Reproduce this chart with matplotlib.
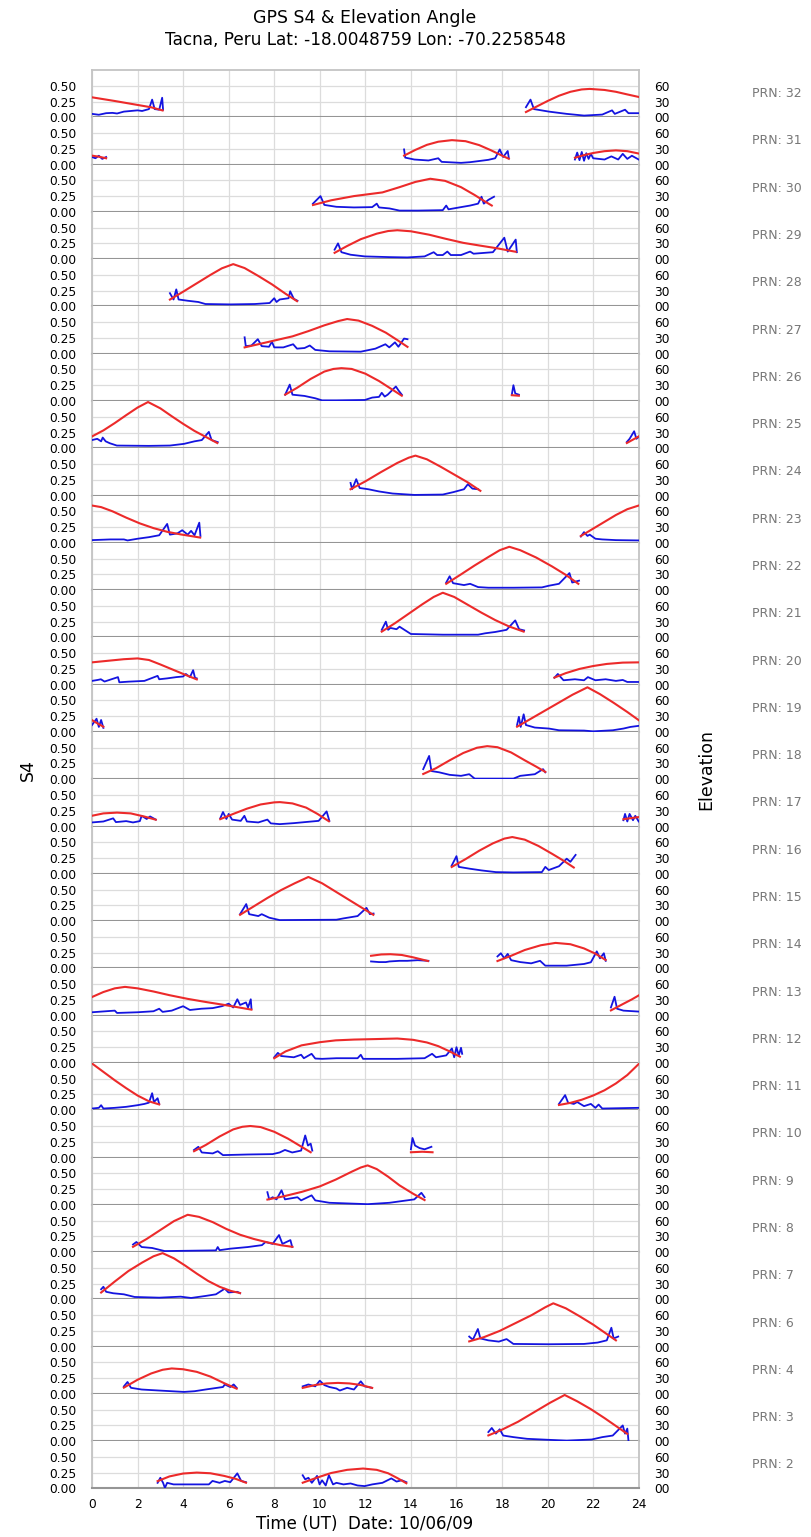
import matplotlib
matplotlib.use("Agg")
import matplotlib.pyplot as plt

# ---------------- data (hours UT, elevation deg / S4) ----------------
PRNS = [32, 31, 30, 29, 28, 27, 26, 25, 24, 23, 22, 21, 20, 19, 18, 17, 16,
        15, 14, 13, 12, 11, 10, 9, 8, 7, 6, 4, 3, 2]

X_TICKS = list(range(0, 25, 2))
S4_TICKS = [0.0, 0.25, 0.5]
S4_LABELS = ["0.00", "0.25", "0.50"]
EL_TICKS = [0, 30, 60]
EL_LABELS = ["00", "30", "60"]

ELEV_32 = [[(0, 38), (1, 31), (2, 23.5), (2.6, 19), (3.1, 13)],
           [(19.05, 10), (19.5, 20), (20.0, 31), (20.5, 41), (21.0, 48.5), (21.5, 53), (21.85, 54),
            (22.5, 52), (23.0, 48.5), (23.5, 43.5), (24, 38.7)]]
S4_32 = [[(0, 0.054), (0.3, 0.04), (0.62, 0.065), (0.9, 0.07), (1.1, 0.06), (1.4, 0.09), (1.7, 0.1),
          (2.0, 0.11), (2.2, 0.1), (2.5, 0.13), (2.64, 0.28), (2.75, 0.13), (2.95, 0.12), (3.08, 0.31), (3.12, 0.12)],
         [(19.05, 0.16), (19.25, 0.28), (19.4, 0.13), (20.06, 0.09), (20.84, 0.054), (21.6, 0.027),
          (22.4, 0.043), (22.83, 0.11), (22.95, 0.054), (23.4, 0.12), (23.55, 0.065), (24, 0.065)]]

ELEV_31 = [[(0, 17), (0.3, 15), (0.62, 12)],
           [(13.7, 17), (14.2, 28), (14.7, 37.5), (15.2, 43.5), (15.8, 46.5), (16.4, 44.5), (17.0, 37),
            (17.5, 27.5), (18.0, 17), (18.3, 11)],
           [(21.2, 13), (21.6, 18), (22.0, 22), (22.5, 25.5), (23.0, 27), (23.5, 25.5), (24, 21)]]
S4_31 = [[(0, 0.12), (0.15, 0.1), (0.3, 0.14), (0.45, 0.09), (0.62, 0.12)],
         [(13.7, 0.24), (13.75, 0.11), (14.15, 0.08), (14.77, 0.065), (15.2, 0.1), (15.35, 0.043),
          (16.2, 0.027), (16.6, 0.038), (16.95, 0.054), (17.4, 0.075), (17.7, 0.1), (17.9, 0.24),
          (18.05, 0.12), (18.25, 0.215), (18.3, 0.1)],
         [(21.2, 0.08), (21.3, 0.19), (21.4, 0.07), (21.5, 0.2), (21.6, 0.06), (21.7, 0.18), (21.8, 0.09),
          (21.9, 0.17), (22.0, 0.1), (22.5, 0.08), (22.8, 0.13), (23.1, 0.08), (23.3, 0.17), (23.5, 0.09),
          (23.7, 0.14), (24, 0.08)]]

ELEV_30 = [[(9.7, 13), (10.5, 22), (11.5, 30), (12.75, 37), (13.5, 47), (14.2, 57), (14.85, 63),
            (15.5, 59), (16.2, 47), (16.8, 32), (17.2, 21), (17.55, 12)]]
S4_30 = [[(9.7, 0.13), (10.03, 0.25), (10.2, 0.11), (10.73, 0.08), (11.5, 0.07), (12.3, 0.075),
          (12.5, 0.13), (12.6, 0.07), (13.06, 0.054), (13.5, 0.02), (14.3, 0.02), (15.4, 0.027),
          (15.55, 0.1), (15.65, 0.04), (16.2, 0.075), (16.6, 0.1), (16.95, 0.13), (17.1, 0.24),
          (17.2, 0.13), (17.4, 0.19), (17.65, 0.24)]]

ELEV_29 = [[(10.65, 12), (11.2, 25), (11.8, 38), (12.5, 48.5), (13.0, 53.5), (13.4, 55), (14.0, 53),
            (14.8, 46.5), (15.5, 39), (16.3, 31), (17.0, 26), (17.8, 20.5), (18.6, 14)]]
S4_29 = [[(10.65, 0.15), (10.8, 0.25), (10.95, 0.11), (11.35, 0.07), (11.98, 0.043), (13.06, 0.032),
          (13.84, 0.027), (14.6, 0.043), (15.0, 0.11), (15.15, 0.065), (15.4, 0.065), (15.6, 0.12),
          (15.75, 0.065), (16.2, 0.065), (16.6, 0.12), (16.75, 0.086), (17.6, 0.11), (18.1, 0.34),
          (18.25, 0.12), (18.6, 0.31), (18.65, 0.11)]]

ELEV_28 = [[(3.42, 13), (4.0, 28), (4.6, 44), (5.2, 60), (5.7, 72.5), (6.2, 80.5), (6.7, 73),
            (7.3, 58), (7.9, 42), (8.5, 24), (9.0, 10)]]
S4_28 = [[(3.42, 0.21), (3.58, 0.11), (3.7, 0.27), (3.8, 0.11), (4.2, 0.09), (4.67, 0.07), (4.98, 0.038),
          (6.07, 0.032), (7.15, 0.038), (7.8, 0.054), (8.0, 0.13), (8.1, 0.07), (8.24, 0.11),
          (8.63, 0.13), (8.7, 0.24), (8.86, 0.12), (9.02, 0.09)]]

ELEV_27 = [[(6.7, 12), (7.3, 18), (8.0, 25), (8.8, 33), (9.5, 43), (10.2, 54), (10.8, 62), (11.2, 66),
            (11.7, 63), (12.3, 53), (12.9, 40), (13.4, 26), (13.85, 13)]]
S4_27 = [[(6.7, 0.26), (6.75, 0.12), (7.0, 0.13), (7.28, 0.23), (7.45, 0.12), (7.77, 0.11), (7.9, 0.19),
          (8.0, 0.1), (8.4, 0.1), (8.83, 0.15), (9.0, 0.08), (9.33, 0.09), (9.56, 0.13), (9.8, 0.06),
          (10.42, 0.038), (11.8, 0.032), (12.44, 0.08), (12.88, 0.15), (13.05, 0.1), (13.3, 0.18),
          (13.45, 0.11), (13.7, 0.24), (13.85, 0.23)]]

ELEV_26 = [[(8.48, 12), (9.0, 25), (9.6, 42), (10.2, 56), (10.6, 61), (10.95, 62.5), (11.4, 61),
            (12.0, 52), (12.6, 38), (13.1, 24), (13.6, 10)],
           [(18.43, 11), (18.74, 10)]]
S4_26 = [[(8.48, 0.1), (8.68, 0.26), (8.8, 0.1), (9.33, 0.08), (9.8, 0.043), (10.1, 0.01), (10.73, 0.01),
          (11.98, 0.016), (12.3, 0.054), (12.6, 0.065), (12.72, 0.13), (12.85, 0.07), (12.98, 0.1),
          (13.34, 0.23), (13.45, 0.17), (13.6, 0.1)],
         [(18.43, 0.1), (18.5, 0.25), (18.58, 0.12), (18.74, 0.1)]]

ELEV_25 = [[(0, 22.5), (0.5, 34), (1.0, 48), (1.5, 63), (2.0, 77.5), (2.46, 88), (3.0, 76), (3.5, 61),
            (4.0, 46.5), (4.5, 33), (5.0, 21.5), (5.5, 10)],
           [(23.48, 10), (24, 22.5)]]
S4_25 = [[(0, 0.13), (0.23, 0.15), (0.4, 0.11), (0.47, 0.17), (0.6, 0.11), (0.78, 0.08), (1.09, 0.043),
          (2.49, 0.038), (3.42, 0.043), (4.04, 0.07), (4.5, 0.11), (4.82, 0.13), (5.13, 0.26),
          (5.25, 0.13), (5.52, 0.097)],
         [(23.48, 0.1), (23.6, 0.15), (23.8, 0.27), (23.9, 0.15), (24, 0.18)]]

ELEV_24 = [[(11.35, 12), (12.0, 27), (12.7, 45), (13.4, 62), (13.9, 72), (14.2, 76), (14.7, 69),
            (15.3, 55), (15.9, 40), (16.5, 25), (17.05, 9)]]
S4_24 = [[(11.35, 0.2), (11.42, 0.1), (11.6, 0.26), (11.75, 0.12), (12.13, 0.1), (12.6, 0.065),
          (13.2, 0.032), (14.15, 0.01), (15.4, 0.016), (15.86, 0.054), (16.33, 0.1), (16.5, 0.18),
          (16.7, 0.11), (16.95, 0.1)]]

ELEV_23 = [[(0, 71), (0.4, 68), (0.9, 60), (1.5, 48), (2.1, 37), (2.7, 28), (3.3, 21), (3.9, 16),
            (4.4, 12.5), (4.75, 10)],
           [(21.46, 13), (22.0, 27), (22.5, 40), (23.0, 53), (23.5, 64), (24, 71)]]
S4_23 = [[(0, 0.043), (0.8, 0.054), (1.4, 0.054), (1.56, 0.038), (2.0, 0.065), (2.5, 0.09), (2.95, 0.12),
          (3.3, 0.3), (3.42, 0.13), (3.75, 0.15), (3.96, 0.2), (4.2, 0.13), (4.35, 0.19), (4.5, 0.12),
          (4.71, 0.32), (4.76, 0.11)],
         [(21.46, 0.1), (21.6, 0.17), (21.75, 0.11), (21.85, 0.13), (22.1, 0.065), (22.4, 0.054),
          (23.0, 0.043), (24, 0.038)]]

ELEV_22 = [[(15.55, 12), (16.2, 30), (16.8, 47), (17.4, 63), (17.9, 76), (18.32, 82.5), (18.8, 76),
            (19.5, 62), (20.2, 45), (20.8, 29), (21.35, 12)]]
S4_22 = [[(15.55, 0.12), (15.7, 0.22), (15.85, 0.11), (16.33, 0.08), (16.6, 0.1), (16.95, 0.048),
          (17.4, 0.038), (18.5, 0.038), (19.75, 0.043), (20.06, 0.07), (20.5, 0.1), (20.96, 0.27),
          (21.08, 0.12), (21.38, 0.15)]]

ELEV_21 = [[(12.72, 11), (13.3, 27), (13.9, 45), (14.5, 63), (15.0, 77), (15.4, 85), (15.9, 77),
            (16.5, 62), (17.1, 47), (17.7, 33), (18.3, 21), (18.95, 11)]]
S4_21 = [[(12.72, 0.12), (12.9, 0.25), (13.0, 0.12), (13.1, 0.15), (13.37, 0.13), (13.5, 0.17),
          (14.0, 0.054), (15.4, 0.043), (16.95, 0.043), (17.26, 0.065), (17.7, 0.086), (18.2, 0.12),
          (18.58, 0.27), (18.75, 0.13), (18.97, 0.11)]]

ELEV_20 = [[(0, 42.5), (0.7, 45.5), (1.4, 48.5), (2.0, 50), (2.5, 47), (3.0, 38.5), (3.5, 29.5),
            (4.0, 20.5), (4.6, 10)],
           [(20.3, 13.5), (20.8, 22), (21.4, 30), (22.0, 35.5), (22.6, 39.5), (23.3, 42), (24, 42.5)]]
S4_20 = [[(0, 0.06), (0.25, 0.075), (0.39, 0.086), (0.55, 0.05), (1.14, 0.12), (1.2, 0.038), (1.6, 0.048),
          (2.3, 0.06), (2.88, 0.14), (2.95, 0.086), (3.3, 0.1), (3.7, 0.12), (4.0, 0.13), (4.12, 0.17),
          (4.3, 0.12), (4.44, 0.23), (4.52, 0.11), (4.6, 0.1)],
         [(20.3, 0.11), (20.45, 0.17), (20.7, 0.07), (21.2, 0.086), (21.6, 0.07), (21.77, 0.12),
          (22.1, 0.07), (22.55, 0.086), (23.0, 0.06), (23.3, 0.075), (23.5, 0.043), (24, 0.043)]]

ELEV_19 = [[(0, 22.5), (0.25, 16), (0.5, 10)],
           [(18.66, 10), (19.3, 26), (19.9, 41), (20.5, 56), (21.1, 71), (21.75, 85), (22.3, 72),
            (22.9, 55.5), (23.5, 38), (24, 22.5)]]
S4_19 = [[(0, 0.11), (0.2, 0.21), (0.3, 0.08), (0.4, 0.19), (0.5, 0.065)],
         [(18.66, 0.11), (18.74, 0.24), (18.82, 0.08), (18.95, 0.28), (19.05, 0.11), (19.44, 0.07),
          (20.06, 0.054), (20.5, 0.027), (21.6, 0.022), (22.0, 0.01), (22.86, 0.027), (23.33, 0.054),
          (23.64, 0.08), (24, 0.097)]]

ELEV_18 = [[(14.54, 10), (15.1, 21), (15.7, 36), (16.3, 50), (16.9, 60), (17.35, 63), (17.8, 61),
            (18.4, 51), (19.0, 36), (19.5, 24), (19.9, 14)]]
S4_18 = [[(14.54, 0.16), (14.8, 0.37), (14.9, 0.13), (15.24, 0.11), (15.7, 0.07), (16.2, 0.054),
          (16.56, 0.08), (16.8, 0.01), (18.5, 0.01), (18.8, 0.054), (19.44, 0.08), (19.8, 0.16),
          (19.9, 0.11)]]

ELEV_17 = [[(0, 20.5), (0.5, 25), (1.1, 26.5), (1.7, 25), (2.3, 19), (2.8, 13)],
           [(5.63, 14), (6.2, 24), (6.8, 34), (7.4, 42), (8.0, 46), (8.25, 46.5), (8.8, 44), (9.4, 36),
            (9.9, 24), (10.4, 10)],
           [(23.33, 14), (24, 18)]]
S4_17 = [[(0, 0.065), (0.5, 0.08), (0.93, 0.13), (1.05, 0.07), (1.5, 0.086), (1.8, 0.065), (2.1, 0.086),
          (2.18, 0.17), (2.4, 0.12), (2.55, 0.16), (2.8, 0.11)],
         [(5.63, 0.13), (5.75, 0.23), (5.9, 0.12), (6.0, 0.2), (6.15, 0.11), (6.53, 0.09), (6.69, 0.17),
          (6.8, 0.08), (7.3, 0.065), (7.7, 0.11), (7.85, 0.05), (8.24, 0.038), (8.86, 0.054),
          (9.49, 0.075), (9.95, 0.09), (10.3, 0.24), (10.42, 0.09)],
         [(23.33, 0.1), (23.4, 0.2), (23.5, 0.08), (23.6, 0.2), (23.75, 0.1), (23.85, 0.17), (24, 0.08)]]

ELEV_16 = [[(15.79, 13), (16.4, 28), (17.0, 44), (17.6, 58), (18.1, 67), (18.45, 70), (19.0, 65),
            (19.6, 53), (20.2, 38), (20.7, 25), (21.15, 12)]]
S4_16 = [[(15.79, 0.13), (16.0, 0.28), (16.1, 0.11), (16.6, 0.08), (17.1, 0.054), (17.73, 0.027),
          (18.5, 0.022), (19.75, 0.027), (19.9, 0.11), (20.05, 0.06), (20.2, 0.08), (20.5, 0.12),
          (20.84, 0.24), (21.0, 0.19), (21.23, 0.3)]]

ELEV_15 = [[(6.5, 12), (7.1, 28), (7.7, 44), (8.3, 59), (8.9, 72), (9.5, 84), (10.1, 72), (10.7, 56),
            (11.3, 40), (11.9, 24), (12.35, 12)]]
S4_15 = [[(6.5, 0.11), (6.77, 0.27), (6.9, 0.11), (7.3, 0.08), (7.45, 0.11), (7.78, 0.054), (8.24, 0.016),
          (10.73, 0.022), (11.04, 0.043), (11.66, 0.08), (12.05, 0.21), (12.2, 0.11), (12.36, 0.12)]]

ELEV_14 = [[(12.25, 24), (12.7, 26.5), (13.1, 27), (13.6, 25.5), (14.1, 21), (14.75, 14)],
           [(17.8, 14), (18.4, 24), (19.0, 35), (19.7, 44), (20.35, 48.5), (21.0, 46), (21.6, 38),
            (22.1, 28), (22.55, 16)]]
S4_14 = [[(12.25, 0.11), (12.6, 0.1), (12.9, 0.1), (13.06, 0.11), (13.5, 0.12), (13.84, 0.12),
          (14.3, 0.13), (14.77, 0.12)],
         [(17.8, 0.19), (17.95, 0.24), (18.1, 0.16), (18.25, 0.23), (18.4, 0.13), (18.8, 0.1), (19.28, 0.08),
          (19.67, 0.12), (19.9, 0.043), (20.84, 0.043), (21.6, 0.07), (21.9, 0.097), (22.16, 0.27),
          (22.3, 0.16), (22.47, 0.24), (22.55, 0.12)]]

ELEV_13 = [[(0, 35.5), (0.5, 45), (1.0, 52), (1.45, 54.8), (2.0, 52), (2.7, 46), (3.4, 39), (4.2, 32),
            (5.0, 26), (5.8, 20.5), (6.4, 16), (7.0, 11.5)],
           [(22.78, 10), (23.3, 22), (23.7, 31), (24, 38.5)]]
S4_13 = [[(0, 0.054), (1.0, 0.08), (1.1, 0.043), (2.0, 0.054), (2.7, 0.07), (2.95, 0.11), (3.1, 0.06),
          (3.5, 0.08), (4.0, 0.15), (4.3, 0.09), (4.8, 0.11), (5.3, 0.12), (5.7, 0.15), (6.0, 0.19),
          (6.2, 0.13), (6.38, 0.26), (6.5, 0.17), (6.76, 0.21), (6.85, 0.13), (6.97, 0.26), (7.0, 0.11)],
         [(22.78, 0.13), (22.94, 0.3), (23.05, 0.11), (23.33, 0.08), (24, 0.065)]]

ELEV_12 = [[(8.0, 9), (8.5, 22), (9.2, 33.5), (10.0, 39.5), (10.7, 43), (11.5, 44.5), (12.5, 45.5),
            (13.4, 46.5), (14.1, 44), (14.7, 39), (15.2, 32), (15.7, 22), (16.15, 12)]]
S4_12 = [[(8.0, 0.09), (8.16, 0.16), (8.3, 0.11), (8.86, 0.09), (9.18, 0.13), (9.3, 0.075), (9.64, 0.145),
          (9.8, 0.07), (10.1, 0.065), (10.73, 0.075), (11.66, 0.075), (11.8, 0.13), (11.9, 0.065),
          (12.3, 0.065), (13.4, 0.065), (14.6, 0.075), (14.93, 0.145), (15.1, 0.09), (15.55, 0.12),
          (15.8, 0.23), (15.9, 0.09), (16.0, 0.25), (16.1, 0.12), (16.2, 0.24), (16.25, 0.145)]]

ELEV_11 = [[(0, 89), (0.5, 73), (1.0, 57), (1.5, 42), (2.0, 28), (2.5, 17), (2.95, 11)],
           [(20.5, 10), (21.0, 14), (21.5, 20), (22.0, 28), (22.5, 38), (23.0, 51), (23.5, 67), (24, 88)]]
S4_11 = [[(0, 0.027), (0.3, 0.038), (0.4, 0.08), (0.5, 0.027), (1.0, 0.038), (1.5, 0.054), (2.0, 0.08),
          (2.3, 0.1), (2.5, 0.12), (2.64, 0.27), (2.72, 0.13), (2.88, 0.19), (2.95, 0.1)],
         [(20.5, 0.1), (20.77, 0.24), (20.9, 0.12), (21.15, 0.1), (21.3, 0.13), (21.6, 0.065), (21.9, 0.1),
          (22.1, 0.038), (22.24, 0.09), (22.4, 0.027), (24, 0.038)]]

ELEV_10 = [[(4.48, 12), (5.0, 24), (5.6, 40), (6.2, 53.5), (6.6, 58.5), (6.95, 60), (7.4, 58), (8.0, 49),
            (8.6, 36), (9.1, 23), (9.6, 10)],
           [(14.0, 10), (14.5, 11), (14.95, 10)]]
S4_10 = [[(4.48, 0.12), (4.67, 0.17), (4.82, 0.08), (5.3, 0.065), (5.52, 0.1), (5.75, 0.038), (6.84, 0.048),
          (7.93, 0.054), (8.24, 0.08), (8.47, 0.12), (8.79, 0.08), (9.18, 0.11), (9.36, 0.35), (9.48, 0.19),
          (9.6, 0.22), (9.67, 0.11)],
         [(14.0, 0.13), (14.07, 0.31), (14.18, 0.19), (14.38, 0.15), (14.6, 0.13), (14.9, 0.17)]]

ELEV_9 = [[(7.7, 10), (8.4, 16), (9.2, 24.5), (10.0, 35), (10.7, 48), (11.4, 63), (11.8, 71), (12.1, 75),
           (12.5, 68), (13.0, 53.5), (13.5, 37), (14.1, 21), (14.6, 9)]]
S4_9 = [[(7.7, 0.2), (7.78, 0.086), (7.93, 0.12), (8.1, 0.086), (8.32, 0.23), (8.47, 0.086), (9.02, 0.12),
         (9.18, 0.07), (9.64, 0.15), (9.8, 0.07), (10.42, 0.032), (12.1, 0.01), (13.06, 0.032),
         (13.5, 0.054), (14.15, 0.086), (14.46, 0.19), (14.6, 0.12)]]

ELEV_8 = [[(1.8, 10), (2.4, 25), (3.0, 42), (3.6, 59), (4.2, 71), (4.7, 67), (5.3, 57), (5.9, 44),
           (6.5, 33), (7.1, 25), (7.7, 18.5), (8.3, 13), (8.8, 10)]]
S4_8 = [[(1.8, 0.12), (1.95, 0.16), (2.18, 0.08), (2.64, 0.065), (3.19, 0.016), (5.44, 0.027), (5.52, 0.08),
         (5.6, 0.03), (6.07, 0.054), (6.84, 0.08), (7.46, 0.11), (7.62, 0.16), (7.93, 0.13), (8.21, 0.27),
         (8.36, 0.13), (8.71, 0.19), (8.79, 0.08)]]

ELEV_7 = [[(0.4, 13), (1.0, 34), (1.6, 54), (2.2, 70), (2.7, 82), (3.1, 88), (3.6, 78), (4.1, 64),
           (4.6, 49), (5.1, 35), (5.6, 24), (6.1, 16), (6.5, 12)]]
S4_7 = [[(0.4, 0.16), (0.5, 0.2), (0.62, 0.12), (0.93, 0.097), (1.4, 0.08), (1.87, 0.038), (2.95, 0.027),
         (3.89, 0.043), (4.35, 0.022), (4.98, 0.054), (5.44, 0.08), (5.83, 0.17), (5.99, 0.11),
         (6.38, 0.12), (6.5, 0.097)]]

ELEV_6 = [[(16.56, 10), (17.2, 18), (17.9, 30), (18.6, 45), (19.3, 60), (19.9, 75), (20.25, 82.5),
           (20.8, 73), (21.4, 58), (22.0, 42), (22.5, 27), (23.0, 12)]]
S4_6 = [[(16.56, 0.16), (16.72, 0.11), (16.94, 0.28), (17.05, 0.13), (17.4, 0.1), (17.86, 0.08),
         (18.2, 0.12), (18.5, 0.043), (20.06, 0.038), (21.6, 0.043), (22.2, 0.065), (22.6, 0.1),
         (22.8, 0.3), (22.9, 0.13), (23.1, 0.16)]]

ELEV_4 = [[(1.4, 12), (2.0, 27), (2.6, 39), (3.1, 46), (3.5, 48.5), (4.0, 47), (4.6, 42), (5.2, 33),
           (5.8, 20.5), (6.35, 10)],
          [(9.25, 11.5), (9.8, 17), (10.3, 20), (10.8, 21), (11.3, 20), (11.8, 17), (12.3, 11.5)]]
S4_4 = [[(1.4, 0.12), (1.56, 0.19), (1.71, 0.097), (2.18, 0.07), (2.95, 0.054), (4.04, 0.032), (4.5, 0.043),
         (4.98, 0.07), (5.75, 0.11), (5.83, 0.15), (6.07, 0.11), (6.22, 0.15), (6.35, 0.097)],
        [(9.25, 0.12), (9.5, 0.15), (9.8, 0.12), (10.0, 0.21), (10.2, 0.14), (10.42, 0.11), (10.73, 0.086),
         (10.88, 0.054), (11.2, 0.097), (11.5, 0.07), (11.8, 0.2), (11.97, 0.12), (12.29, 0.097)]]

ELEV_3 = [[(17.4, 11), (18.0, 22), (18.7, 37), (19.4, 55), (20.1, 73), (20.75, 88), (21.3, 76),
           (21.9, 61), (22.5, 44), (23.0, 29), (23.5, 14)]]
S4_3 = [[(17.4, 0.145), (17.55, 0.21), (17.73, 0.12), (17.9, 0.19), (18.05, 0.09), (18.5, 0.065),
         (19.1, 0.038), (20.06, 0.022), (20.84, 0.01), (21.93, 0.027), (22.4, 0.065), (22.86, 0.09),
         (23.3, 0.25), (23.4, 0.12), (23.5, 0.2), (23.55, 0.01)]]

ELEV_2 = [[(2.88, 14), (3.4, 23), (4.0, 28.5), (4.6, 30.3), (5.2, 29), (5.8, 24), (6.3, 18.5), (6.76, 11)],
          [(9.25, 11), (9.9, 21), (10.5, 29.5), (11.2, 35.5), (11.9, 38), (12.5, 35.5), (13.0, 29),
           (13.4, 20), (13.8, 10)]]
S4_2 = [[(2.88, 0.09), (3.0, 0.17), (3.12, 0.09), (3.2, 0.01), (3.3, 0.09), (3.58, 0.065), (4.51, 0.065),
         (5.13, 0.065), (5.29, 0.12), (5.6, 0.09), (5.83, 0.12), (6.07, 0.1), (6.38, 0.24), (6.55, 0.12),
         (6.76, 0.1)],
        [(9.25, 0.21), (9.36, 0.145), (9.5, 0.17), (9.65, 0.09), (9.88, 0.2), (9.99, 0.065), (10.1, 0.13),
         (10.26, 0.048), (10.4, 0.21), (10.58, 0.065), (10.73, 0.09), (11.04, 0.065), (11.35, 0.08),
         (11.66, 0.048), (11.97, 0.038), (12.3, 0.065), (12.75, 0.09), (13.14, 0.16), (13.37, 0.11),
         (13.6, 0.13), (13.8, 0.1)]]

ELEV = {32: ELEV_32, 31: ELEV_31, 30: ELEV_30, 29: ELEV_29, 28: ELEV_28, 27: ELEV_27, 26: ELEV_26,
        25: ELEV_25, 24: ELEV_24, 23: ELEV_23, 22: ELEV_22, 21: ELEV_21, 20: ELEV_20, 19: ELEV_19,
        18: ELEV_18, 17: ELEV_17, 16: ELEV_16, 15: ELEV_15, 14: ELEV_14, 13: ELEV_13, 12: ELEV_12,
        11: ELEV_11, 10: ELEV_10, 9: ELEV_9, 8: ELEV_8, 7: ELEV_7, 6: ELEV_6, 4: ELEV_4, 3: ELEV_3,
        2: ELEV_2}
S4 = {32: S4_32, 31: S4_31, 30: S4_30, 29: S4_29, 28: S4_28, 27: S4_27, 26: S4_26, 25: S4_25,
      24: S4_24, 23: S4_23, 22: S4_22, 21: S4_21, 20: S4_20, 19: S4_19, 18: S4_18, 17: S4_17,
      16: S4_16, 15: S4_15, 14: S4_14, 13: S4_13, 12: S4_12, 11: S4_11, 10: S4_10, 9: S4_9,
      8: S4_8, 7: S4_7, 6: S4_6, 4: S4_4, 3: S4_3, 2: S4_2}

# ---------------- figure ----------------
plt.rcParams['font.family'] = ['DejaVu Sans']
W, H = 811, 1537
fig = plt.figure(figsize=(W / 100, H / 100), dpi=100)
n = len(PRNS)
L, R, T, B = 92 / W, 638.7 / W, 1 - 70 / H, 1 - 1488.5 / H
axes = fig.subplots(n, 1, sharex=True, gridspec_kw=dict(hspace=0))
fig.subplots_adjust(left=L, right=R, top=T, bottom=B)

RED = '#ec2a2a'
BLUE = '#1414e0'
GRID = '#dcdcdc'

for i, (prn, ax) in enumerate(zip(PRNS, axes)):
    ax.set_xlim(0, 24)
    ax.set_ylim(0, 0.75)
    ax.set_yticks(S4_TICKS)
    ax.set_yticklabels(S4_LABELS)
    ax.set_xticks(X_TICKS)
    ax.grid(True, color=GRID, lw=0.9)
    ax.set_axisbelow(True)
    ax.tick_params(axis='both', length=0, labelsize=8.8, pad=11)
    ax.tick_params(axis='x', pad=7, labelsize=8.8)
    for s in ('left', 'right'):
        ax.spines[s].set_color('#c4c4c4')
        ax.spines[s].set_linewidth(1.3)
    ax.spines['bottom'].set_color('#959595')
    ax.spines['bottom'].set_linewidth(1.5)
    if i == 0:
        ax.spines['top'].set_color('#c4c4c4')
        ax.spines['top'].set_linewidth(1.3)
    else:
        ax.spines['top'].set_visible(False)
    if i < n - 1:
        ax.tick_params(axis='x', labelbottom=False)

    for pas in S4[prn]:
        ax.plot([p[0] for p in pas], [p[1] for p in pas], color=BLUE, lw=1.3, zorder=3)

    ax2 = ax.twinx()
    ax2.set_ylim(0, 90)
    ax2.set_yticks(EL_TICKS)
    ax2.set_yticklabels(EL_LABELS)
    ax2.tick_params(axis='y', length=0, labelsize=8.8, pad=11)
    for s in ax2.spines.values():
        s.set_visible(False)
    for pas in ELEV[prn]:
        ax2.plot([p[0] for p in pas], [p[1] for p in pas], color=RED, lw=1.5, zorder=4)

    pos = ax.get_position()
    fig.text(752 / W, (pos.y0 + pos.y1) / 2, f'PRN: {prn}', color='#777777', fontsize=9,
             va='center', ha='left')

fig.text(365 / W, 1 - 18 / H, 'GPS S4 & Elevation Angle', ha='center', va='center', fontsize=12.5)
fig.text(365 / W, 1 - 40 / H, 'Tacna, Peru Lat: -18.0048759 Lon: -70.2258548', ha='center',
         va='center', fontsize=12.2)
fig.text(28 / W, 1 - 770 / H, 'S4', rotation=90, ha='center', va='center', fontsize=12.5)
fig.text(706 / W, 1 - 770 / H, 'Elevation', rotation=90, ha='center', va='center', fontsize=12.5)
fig.text(365 / W, 1 - 1524 / H, 'Time (UT)  Date: 10/06/09', ha='center', va='center', fontsize=12)

fig.savefig('out.png', dpi=100)
